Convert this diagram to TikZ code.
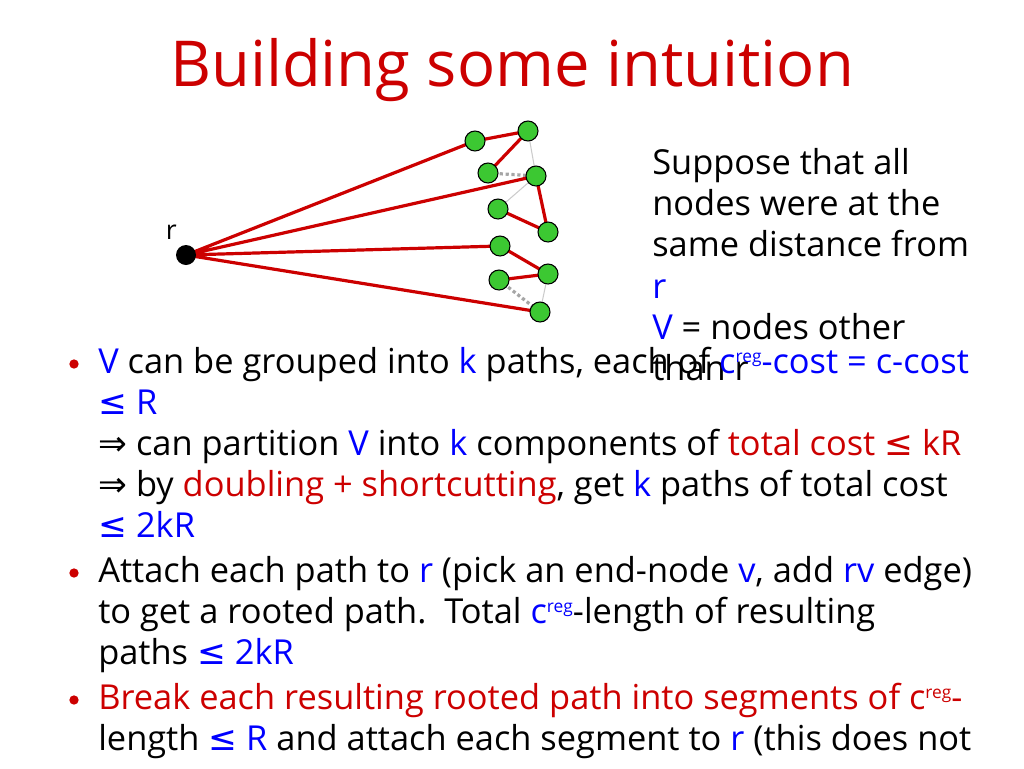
\documentclass[tikz,border=0pt]{standalone}
\usepackage{fontspec}
\setmainfont{Open Sans}
\newfontfamily\symf{DejaVu Sans}
\newcommand{\LE}{{\symf ≤}}
\newcommand{\IMP}{{\symf ⇒}}
\definecolor{tred}{RGB}{204,0,0}
\definecolor{tblue}{RGB}{0,0,255}
\definecolor{ngreen}{RGB}{60,200,50}
\newcommand{\B}[1]{\textcolor{tblue}{#1}}
\newcommand{\R}[1]{\textcolor{tred}{#1}}
\newcommand{\creg}{c\raisebox{0.55ex}{\fontsize{13}{14}\selectfont reg}}
\begin{document}
\begin{tikzpicture}[x=0.75pt,y=-0.75pt,
  gn/.style={circle,draw=black,fill=ngreen,minimum size=15pt,inner sep=0,line width=0.8pt},
  re/.style={draw=tred,line width=2.4pt},
  ge/.style={draw=gray!40,line width=0.8pt},
  de/.style={draw=gray!70,line width=2.4pt,dotted},
  tx/.style={anchor=base west,inner sep=0,font=\fontsize{25.8}{30}\selectfont},
  bul/.style={circle,fill=tred,minimum size=7pt,inner sep=0}]
\useasboundingbox (0,0) rectangle (1024,768);
\node[font=\fontsize{47.5}{52}\selectfont,text=tred] (title) at (512,70) {Building some intuition};
\coordinate (rr) at (186,255);
\node[anchor=south east,font=\fontsize{20}{24}\selectfont,inner sep=0] (rl) at (177,240) {r};
\node (A) at (475,141) {}; \node (Bn) at (528,131) {}; \node (C) at (488,173) {};
\node (D) at (536,176) {}; \node (E) at (498,209) {}; \node (F) at (548,232) {};
\node (G) at (500,246) {}; \node (H) at (548,274) {}; \node (I) at (499,280) {};
\node (J) at (540,312) {};
\draw[ge] (A.center)--(Bn.center) (C.center)--(Bn.center) (Bn.center)--(D.center) (D.center)--(E.center) (D.center)--(F.center) (G.center)--(H.center) (I.center)--(H.center) (H.center)--(J.center);
\draw[de] (C.center)--(D.center) (I.center)--(J.center);
\draw[re] (rr)--(A.center) (A.center)--(Bn.center) (Bn.center)--(C.center) (rr)--(D.center) (D.center)--(F.center) (E.center)--(F.center) (rr)--(G.center) (G.center)--(H.center) (H.center)--(I.center) (rr)--(J.center);
\foreach \n in {A,Bn,C,D,E,F,G,H,I,J} \node[gn] at (\n) {};
\node[circle,fill=black,minimum size=15pt,inner sep=0] (rn) at (rr) {};
\node[tx] (s1) at (652,174) {Suppose that all};
\node[tx] (s2) at (652,215) {nodes were at the};
\node[tx] (s3) at (652,256) {same distance from};
\node[tx] (s4) at (652,298) {\B{r}};
\node[tx] (s5) at (652,339) {\B{V} = nodes other};
\node[tx] (s6) at (652,380) {than r};
\node[bul] (b1) at (74,364) {};
\node[bul] (b2) at (74,573) {};
\node[bul] (b3) at (74,700) {};
\node[tx] (l1) at (98,373) {\B{V} can be grouped into \B{k} paths, each of \B{\creg-cost = c-cost}};
\node[tx] (l2) at (98,414) {\B{\LE\ R}};
\node[tx] (l3) at (98,455) {\IMP\ can partition \B{V} into \B{k} components of \R{total cost \LE\ kR}};
\node[tx] (l4) at (98,496) {\IMP\ by \R{doubling + shortcutting}, get \B{k} paths of total cost};
\node[tx] (l5) at (98,537) {\B{\LE\ 2kR}};
\node[tx] (l6) at (98,582) {Attach each path to \B{r} (pick an end-node \B{v}, add \B{rv} edge)};
\node[tx] (l7) at (98,623) {to get a rooted path.\ \ Total \B{\creg}-length of resulting};
\node[tx] (l8) at (98,664) {paths \B{\LE\ 2kR}};
\node[tx] (l9) at (98,709) {\R{Break each resulting rooted path into segments of \creg-}};
\node[tx] (l10) at (98,750) {length \B{\LE\ R} and attach each segment to \B{r} (this does not};
\end{tikzpicture}
\end{document}
